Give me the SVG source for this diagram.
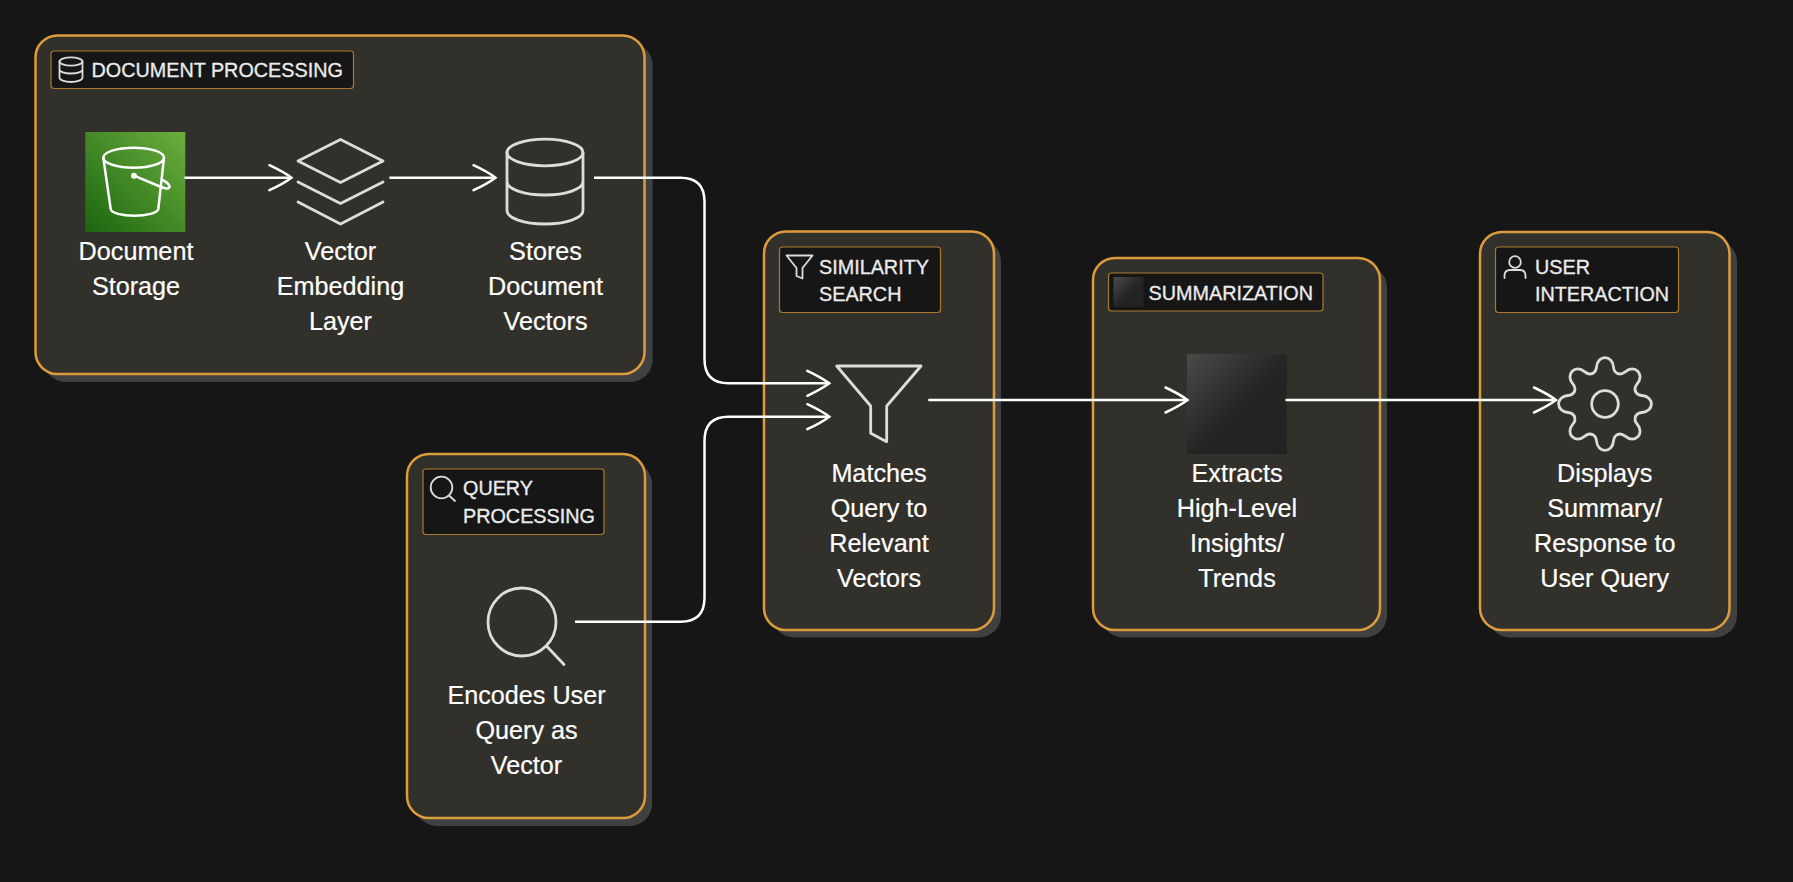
<svg xmlns="http://www.w3.org/2000/svg" xmlns:xlink="http://www.w3.org/1999/xlink" width="1793" height="882" viewBox="0 0 1793 882">
<style>
.shadow{fill:#404040}
.box{fill:#32302a;stroke:#dc9c3c;stroke-width:2.5}
.lab{fill:#161616;stroke:#a87a30;stroke-width:1.2}
.lt{font-family:"Liberation Sans",Arial,sans-serif;font-size:19.8px;fill:#ececec;stroke:#ececec;stroke-width:.3}
.nt{font-family:"Liberation Sans",Arial,sans-serif;font-size:25.2px;fill:#fff;stroke:#fff;stroke-width:.2;text-anchor:middle}
.ic{fill:none;stroke:#dcdcdc;stroke-width:2.8;stroke-linejoin:round;stroke-linecap:round}
.is{fill:none;stroke:#dcdcdc;stroke-width:1.8;stroke-linejoin:round;stroke-linecap:round}
.wb{fill:none;stroke:#fff;stroke-width:2.5;stroke-linejoin:round;stroke-linecap:round}
.cn{fill:none;stroke:#fff;stroke-width:2.5}
</style>
<defs>
<linearGradient id="s3" x1="0" y1="1" x2="1" y2="0"><stop offset="0" stop-color="#1b660f"/><stop offset="1" stop-color="#6cae3e"/></linearGradient>
<linearGradient id="gr" x1="0" y1="0" x2="1" y2="1"><stop offset="0" stop-color="#4a4a4a"/><stop offset=".55" stop-color="#232323"/><stop offset="1" stop-color="#222"/></linearGradient>
<marker id="ah" markerUnits="userSpaceOnUse" markerWidth="32" markerHeight="32" viewBox="-28 -16 32 32" refX="0" refY="0" orient="auto" overflow="visible">
<path d="M-22,-12.5 Q-8,-6 0,0 Q-8,6 -22,12.5" fill="none" stroke="#fff" stroke-width="2.5" stroke-linecap="round"/>
</marker>
<path id="tooth" d="M-12.6,-30.5 C-9.500,-31.800 -8.800,-34 -8.500,-37 C-7.500,-49.500 7.500,-49.500 8.500,-37 C8.800,-34 9.500,-31.800 12.600,-30.500"/>
</defs>
<rect width="1793" height="882" fill="#161616"/>

<g id="cluster-document-processing">
<rect class="shadow" x="43.500" y="43" width="609" height="339" rx="22"/>
<rect class="box" x="35.500" y="35.500" width="609" height="338.500" rx="22"/>
<rect class="lab" x="51" y="51" width="302.500" height="37.500" rx="3"/>
<g class="is"><ellipse cx="71" cy="61.500" rx="11.500" ry="4.200"/><path d="M59.500,61.500V77.500C59.500,80 64.500,82 71,82S82.500,80 82.500,77.500V61.500M59.500,69.500C59.500,71.800 64.500,73.500 71,73.500S82.500,71.800 82.500,69.500"/></g>
<text class="lt" x="91.500" y="77">DOCUMENT PROCESSING</text>
</g>
<g id="cluster-query-processing">
<rect class="shadow" x="415" y="462" width="237" height="364" rx="22"/>
<rect class="box" x="407" y="454" width="238" height="364" rx="22"/>
<rect class="lab" x="423" y="469" width="181" height="65.500" rx="3"/>
<g class="is"><circle cx="441.500" cy="487.500" r="10.800"/><path d="M449,495.500L455,501"/></g>
<text class="lt" x="463" y="495">QUERY</text>
<text class="lt" x="463" y="523">PROCESSING</text>
</g>
<g id="cluster-similarity-search">
<rect class="shadow" x="772" y="239" width="229" height="398.500" rx="22"/>
<rect class="box" x="764" y="231.500" width="230" height="398.500" rx="22"/>
<rect class="lab" x="779.500" y="247" width="161" height="65.500" rx="3"/>
<path class="is" d="M786.500,255.500H812.500L802.500,268V278.500L796.500,276V268Z"/>
<text class="lt" x="819" y="274">SIMILARITY</text>
<text class="lt" x="819" y="301">SEARCH</text>
</g>
<g id="cluster-summarization">
<rect class="shadow" x="1101" y="265.500" width="286" height="372" rx="22"/>
<rect class="box" x="1093" y="258" width="287" height="372" rx="22"/>
<rect class="lab" x="1108.500" y="273" width="214.500" height="38" rx="3"/>
<rect x="1113.500" y="277" width="30" height="30" fill="url(#gr)"/>
<text class="lt" x="1148.500" y="299.500">SUMMARIZATION</text>
</g>
<g id="cluster-user-interaction">
<rect class="shadow" x="1488" y="240" width="249" height="397.500" rx="22"/>
<rect class="box" x="1480" y="232" width="249.500" height="398" rx="22"/>
<rect class="lab" x="1495.500" y="247" width="183" height="65.500" rx="3"/>
<g class="is"><circle cx="1515" cy="262" r="5.800"/><path d="M1504.500,278V276C1504.500,272 1507,270 1510,270H1520C1523,270 1525.500,272 1525.500,276V278"/></g>
<text class="lt" x="1535" y="273.500">USER</text>
<text class="lt" x="1535" y="301">INTERACTION</text>
</g>

<g id="node-document-storage">
<rect x="85.300" y="132" width="100" height="100" fill="url(#s3)"/>
<g class="wb"><ellipse cx="133.700" cy="157.700" rx="30.400" ry="10"/><path d="M103.300,157.700L110.700,209C111,213 122,215.700 134.300,215.700S157.500,213 158.300,209L164,157.700"/><path d="M134,175.700L161,187Q170,190.500 169.500,186Q168,182.500 162.500,180"/></g>
<circle cx="134" cy="175.700" r="3" fill="#fff"/>
<text class="nt" x="136" y="260">Document</text>
<text class="nt" x="136" y="295">Storage</text>
</g>
<g id="node-vector-embedding">
<path class="ic" d="M340.500,139.500L383,161L340.500,182.500L298,161Z"/>
<path class="ic" d="M298,182L340.500,203.500L383,182"/>
<path class="ic" d="M298,202L340.500,224L383,202"/>
<text class="nt" x="340.500" y="260">Vector</text>
<text class="nt" x="340.500" y="295">Embedding</text>
<text class="nt" x="340.500" y="330">Layer</text>
</g>
<g id="node-stores-vectors">
<ellipse class="ic" cx="545" cy="152.500" rx="38" ry="13.300"/>
<path class="ic" d="M507,152.500V210.500C507,218 524,224 545,224S583,218 583,210.500V152.500M507,181.500C507,189 524,195 545,195S583,189 583,181.500"/>
<text class="nt" x="545.500" y="260">Stores</text>
<text class="nt" x="545.500" y="295">Document</text>
<text class="nt" x="545.500" y="330">Vectors</text>
</g>
<g id="node-encodes-query">
<circle class="ic" cx="522" cy="622" r="34"/>
<path class="ic" d="M546.500,646L564,664.500"/>
<text class="nt" x="526.500" y="703.500">Encodes User</text>
<text class="nt" x="526.500" y="738.500">Query as</text>
<text class="nt" x="526.500" y="773.500">Vector</text>
</g>
<g id="node-matches-query">
<path class="ic" d="M836.700,366H921L886.700,406V441.700L870.700,433.300V406Z"/>
<text class="nt" x="879" y="482">Matches</text>
<text class="nt" x="879" y="517">Query to</text>
<text class="nt" x="879" y="552">Relevant</text>
<text class="nt" x="879" y="587">Vectors</text>
</g>
<g id="node-extracts-insights">
<rect x="1187" y="354" width="100" height="100" fill="url(#gr)"/>
<text class="nt" x="1237" y="482">Extracts</text>
<text class="nt" x="1237" y="517">High-Level</text>
<text class="nt" x="1237" y="552">Insights/</text>
<text class="nt" x="1237" y="587">Trends</text>
</g>
<g id="node-displays-summary">
<g class="ic" transform="translate(1605,404)">
<use xlink:href="#tooth" href="#tooth"/>
<use xlink:href="#tooth" href="#tooth" transform="rotate(45)"/>
<use xlink:href="#tooth" href="#tooth" transform="rotate(90)"/>
<use xlink:href="#tooth" href="#tooth" transform="rotate(135)"/>
<use xlink:href="#tooth" href="#tooth" transform="rotate(180)"/>
<use xlink:href="#tooth" href="#tooth" transform="rotate(225)"/>
<use xlink:href="#tooth" href="#tooth" transform="rotate(270)"/>
<use xlink:href="#tooth" href="#tooth" transform="rotate(315)"/>
<circle r="13.300"/>
</g>
<text class="nt" x="1604.700" y="482">Displays</text>
<text class="nt" x="1604.700" y="517">Summary/</text>
<text class="nt" x="1604.700" y="552">Response to</text>
<text class="nt" x="1604.700" y="587">User Query</text>
</g>

<g id="connectors">
<path class="cn" marker-end="url(#ah)" d="M184.500,177.700H291.400"/>
<path class="cn" marker-end="url(#ah)" d="M389.400,177.700H495.500"/>
<path class="cn" marker-end="url(#ah)" d="M594,177.700H680.500Q704.500,177.700 704.500,201.700V359.300Q704.500,383.300 728.500,383.300H829.300"/>
<path class="cn" marker-end="url(#ah)" d="M575,621.700H680.500Q704.500,621.700 704.500,597.700V440.700Q704.500,416.700 728.500,416.700H829.300"/>
<path class="cn" marker-end="url(#ah)" d="M928.300,400H1187.500"/>
<path class="cn" marker-end="url(#ah)" d="M1285.500,400H1556"/>
</g>
</svg>
